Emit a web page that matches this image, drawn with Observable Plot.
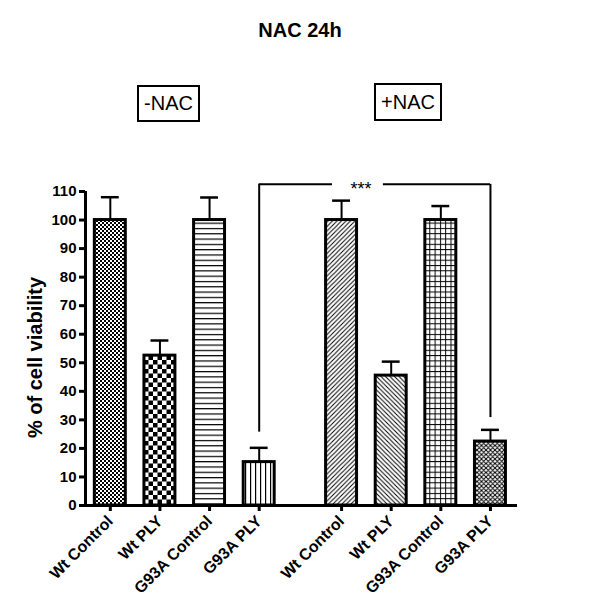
<!DOCTYPE html>
<html>
<head>
<meta charset="utf-8">
<script src="https://cdn.jsdelivr.net/npm/d3@7"></script>
<script src="https://cdn.jsdelivr.net/npm/@observablehq/plot@0.6"></script>
<style>
  html, body { margin: 0; padding: 0; background: #fff; }
  #wrap { position: relative; width: 600px; height: 615px; font-family: "Liberation Sans", Arial, sans-serif; }
  #wrap svg { position: absolute; left: 0; top: 0; }
  .title { position: absolute; left: 0; width: 600px; top: 20px; text-align: center; font-size: 20px; font-weight: bold; line-height: 20px; }
  .box { position: absolute; box-sizing: border-box; border: 2.5px solid #000; font-size: 20px; display: flex; align-items: center; justify-content: center; background: #fff; }
</style>
</head>
<body>
<div id="wrap">
  <div class="title">NAC 24h</div>
  <div class="box" style="left:137px;top:85px;width:63px;height:37px;">-NAC</div>
  <div class="box" style="left:374px;top:83px;width:68px;height:38px;">+NAC</div>
</div>
<script>
// ---- data ----
const groups = ["-NAC", "+NAC"];
const categories = ["Wt Control", "Wt PLY", "G93A Control", "G93A PLY"];
const meanNoNAC = [100, 52.5, 100, 15.2];
const semNoNAC  = [8.0, 5.3, 7.9, 5.0];
const meanNAC   = [100, 45.5, 100, 22.4];
const semNAC    = [6.8, 4.9, 4.9, 4.1];
const yTicks = [0, 10, 20, 30, 40, 50, 60, 70, 80, 90, 100, 110];
const yLabel = "% of cell viability";
// significance bracket: G93A PLY (-NAC) vs G93A PLY (+NAC)
const bracketFrom = ["-NAC", "G93A PLY"];
const bracketTo   = ["+NAC", "G93A PLY"];
const bracketLevel = 112.5;
const bracketLegBottoms = [25.7, 30.8];
const bracketLabel = "***";

// ---- layout ----
const groupGap = 0.66;           // extra gap between groups, in bar steps
const barHalf = 0.312;
const capHalf = 0.18;
const means = [meanNoNAC, meanNAC];
const sems = [semNoNAC, semNAC];

const rows = [];
groups.forEach((g, gi) => {
  categories.forEach((c, ci) => {
    rows.push({
      key: g + "|" + c,
      group: g,
      cat: c,
      pos: gi * (categories.length + groupGap) + ci,
      mean: means[gi][ci],
      sem: sems[gi][ci]
    });
  });
});
const posOf = (g, c) => rows.find(r => r.group === g && r.cat === c).pos;
const labelByPos = new Map(rows.map(r => [r.pos, r.cat]));
const xmin = -0.5;
const xmax = d3.max(rows, r => r.pos) + 0.545;

const patternIds = rows.map((r, i) => "pat" + i);

const bx1 = posOf(...bracketFrom);
const bx2 = posOf(...bracketTo);
const legs = [{x: bx1, y1: bracketLegBottoms[0]}, {x: bx2, y1: bracketLegBottoms[1]}];
const starX = bx1 + (bx2 - bx1) * 0.44;
const gapL = bx1 + (bx2 - bx1) * 0.317;
const gapR = bx1 + (bx2 - bx1) * 0.537;
const topSegs = [{x1: bx1, x2: gapL}, {x1: gapR, x2: bx2}];

const font = "'Liberation Sans', Arial, sans-serif";

const chart = Plot.plot({
  width: 600,
  height: 615,
  marginTop: 191,
  marginBottom: 110,
  marginLeft: 85,
  marginRight: 83,
  style: {fontFamily: font, background: "transparent", overflow: "visible", color: "#000"},
  x: {type: "linear", domain: [xmin, xmax], axis: null},
  y: {domain: [0, 110], axis: null},
  color: {type: "ordinal", domain: rows.map(r => r.key), range: patternIds.map(id => `url(#${id})`)},
  marks: [
    Plot.rect(rows, {x1: d => d.pos - barHalf, x2: d => d.pos + barHalf, y1: 0, y2: "mean", fill: "key", stroke: "#000", strokeWidth: 3}),
    Plot.ruleX(rows, {x: "pos", y1: "mean", y2: d => d.mean + d.sem, stroke: "#000", strokeWidth: 2}),
    Plot.ruleY(rows, {y: d => d.mean + d.sem, x1: d => d.pos - capHalf, x2: d => d.pos + capHalf, stroke: "#000", strokeWidth: 2.5}),
    Plot.ruleX(legs, {x: "x", y1: "y1", y2: bracketLevel, stroke: "#000", strokeWidth: 2}),
    Plot.ruleY(topSegs, {x1: "x1", x2: "x2", y: bracketLevel, stroke: "#000", strokeWidth: 2}),
    Plot.text([bracketLabel], {x: starX, y: bracketLevel, text: d => d, fontSize: 18, lineAnchor: "bottom", dy: 11}),
    Plot.ruleY([0], {stroke: "#000", strokeWidth: 3}),
    Plot.ruleX([xmin], {stroke: "#000", strokeWidth: 3}),
    Plot.axisY({ticks: yTicks, tickSize: 6, tickPadding: 3, stroke: "#000", strokeWidth: 3, fontSize: 15, fontWeight: "bold", label: null}),
    Plot.axisX({ticks: rows.map(r => r.pos), tickFormat: d => labelByPos.get(d), tickRotate: -45, tickSize: 6, tickPadding: 7, stroke: "#000", strokeWidth: 3, fontSize: 16, fontWeight: "bold", label: null}),
    Plot.text([yLabel], {frameAnchor: "left", textAnchor: "middle", lineAnchor: "middle", text: d => d, rotate: -90, dx: -50, dy: 9, fontSize: 20, fontWeight: "bold"})
  ]
});

const defsHtml = `
<pattern id="pat0" patternUnits="userSpaceOnUse" width="4" height="4"><rect width="4" height="4" fill="#fff"/><rect width="2" height="2" fill="#000"/><rect x="2" y="2" width="2" height="2" fill="#000"/></pattern>
<pattern id="pat1" patternUnits="userSpaceOnUse" width="9" height="9"><rect width="9" height="9" fill="#fff"/><rect width="4.5" height="4.5" fill="#000"/><rect x="4.5" y="4.5" width="4.5" height="4.5" fill="#000"/></pattern>
<pattern id="pat2" patternUnits="userSpaceOnUse" width="10" height="5.3"><rect width="10" height="5.3" fill="#fff"/><rect width="10" height="1.2" fill="#000"/></pattern>
<pattern id="pat3" patternUnits="userSpaceOnUse" width="5" height="10"><rect width="5" height="10" fill="#fff"/><rect width="1.2" height="10" fill="#000"/></pattern>
<pattern id="pat4" patternUnits="userSpaceOnUse" width="4.5" height="4.5"><rect width="4.5" height="4.5" fill="#fff"/><path d="M0,4.5L4.5,0M-1,1L1,-1M3.5,5.5L5.5,3.5" stroke="#000" stroke-width="1"/></pattern>
<pattern id="pat5" patternUnits="userSpaceOnUse" width="4.5" height="4.5"><rect width="4.5" height="4.5" fill="#fff"/><path d="M0,0L4.5,4.5M-1,3.5L1,5.5M3.5,-1L5.5,1" stroke="#000" stroke-width="1"/></pattern>
<pattern id="pat6" patternUnits="userSpaceOnUse" width="5.3" height="5.3"><rect width="5.3" height="5.3" fill="#fff"/><rect width="5.3" height="1" fill="#000"/><rect width="1" height="5.3" fill="#000"/></pattern>
<pattern id="pat7" patternUnits="userSpaceOnUse" width="4.5" height="4.5"><rect width="4.5" height="4.5" fill="#fff"/><path d="M0,4.5L4.5,0M-1,1L1,-1M3.5,5.5L5.5,3.5M0,0L4.5,4.5M-1,3.5L1,5.5M3.5,-1L5.5,1" stroke="#000" stroke-width="1"/></pattern>`;
d3.select(chart).insert("defs", ":first-child").html(defsHtml);

document.getElementById("wrap").insertBefore(chart, document.getElementById("wrap").firstChild);
</script>
</body>
</html>
